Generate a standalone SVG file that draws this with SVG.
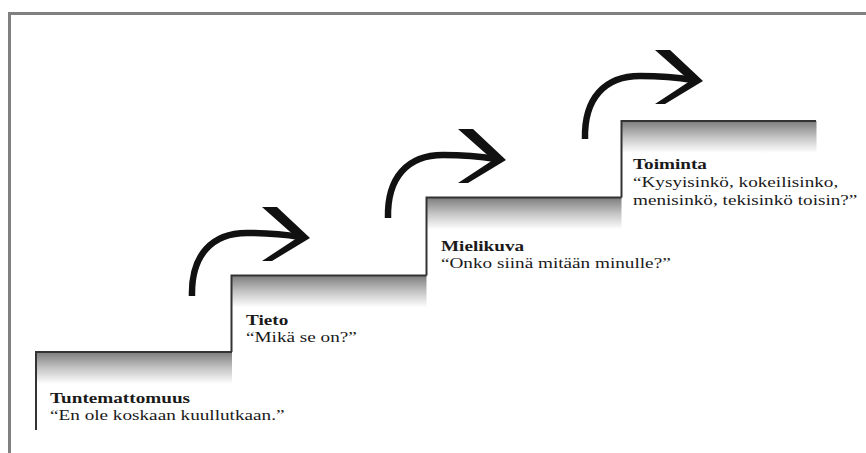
<svg xmlns="http://www.w3.org/2000/svg" width="866" height="453" viewBox="0 0 866 453">
<defs>
<linearGradient id="stepGrad" x1="0" y1="0" x2="0" y2="1">
<stop offset="0" stop-color="#7c7c7c"/>
<stop offset="0.5" stop-color="#c4c4c4"/>
<stop offset="1" stop-color="#ffffff"/>
</linearGradient>
<g id="arrow">
<path d="M192,296 C191,255 212,233 247,233 C270,233 288,235 300,237" fill="none" stroke="#111" stroke-width="6.5"/>
<polygon points="262,207 277,207 310,238 272,261 262,261 297,238" fill="#111"/>
</g>
</defs>
<style>
.t{font-family:"Liberation Serif","Times New Roman",serif;font-size:15px;fill:#1a1a1a}
.b{font-weight:bold}
.edge{fill:none;stroke:#333;stroke-width:2}
.grad{fill:url(#stepGrad)}
</style>
<rect x="0" y="0" width="866" height="453" fill="#fff"/>
<path d="M9.5,453 V13.5 H866" fill="none" stroke="#808080" stroke-width="3"/>

<g id="step1">
<rect class="grad" x="36" y="352" width="196" height="32"/>
<path class="edge" d="M36,430 V352 H232"/>
<text class="t b" transform="translate(50,403) scale(1.28,1)">Tuntemattomuus</text>
<text class="t" transform="translate(50,420) scale(1.28,1)">“En ole koskaan kuullutkaan.”</text>
</g>

<g id="step2">
<rect class="grad" x="231.5" y="275.5" width="195" height="32"/>
<path class="edge" d="M231.5,352 V275.5 H426.5"/>
<text class="t b" transform="translate(246,325) scale(1.28,1)">Tieto</text>
<text class="t" transform="translate(246,342) scale(1.28,1)">“Mikä se on?”</text>
</g>

<g id="step3">
<rect class="grad" x="426.5" y="197.5" width="195" height="32"/>
<path class="edge" d="M426.5,275.5 V197.5 H621.5"/>
<text class="t b" transform="translate(441,250.5) scale(1.28,1)">Mielikuva</text>
<text class="t" transform="translate(441,267.5) scale(1.28,1)">“Onko siinä mitään minulle?”</text>
</g>

<g id="step4">
<rect class="grad" x="621.5" y="121" width="195" height="32"/>
<path class="edge" d="M621.5,197.5 V121 H816"/>
<text class="t b" transform="translate(633,169) scale(1.28,1)">Toiminta</text>
<text class="t" transform="translate(633,187) scale(1.28,1)">“Kysyisinkö, kokeilisinko,</text>
<text class="t" transform="translate(633,205) scale(1.28,1)">menisinkö, tekisinkö toisin?”</text>
</g>

<g id="connectors">
<use href="#arrow"/>
<use href="#arrow" transform="translate(196,-78)"/>
<use href="#arrow" transform="translate(393,-157)"/>
</g>
</svg>
